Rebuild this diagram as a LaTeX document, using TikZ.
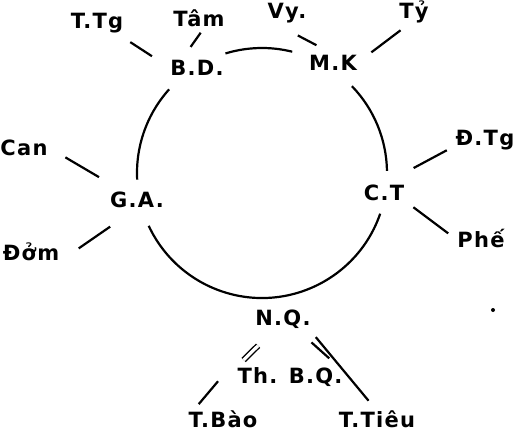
\documentclass[tikz,border=0pt]{standalone}
\usepackage{fontspec}
\setmainfont{DejaVu Sans}[LetterSpace=6]
\usetikzlibrary{calc}

\begin{document}
\begin{tikzpicture}[x=1pt,y=-1pt,line width=2.2pt,
		lbl/.style={inner sep=0pt,text height=15pt,text depth=0pt,anchor=base,font=\bfseries\fontsize{21}{25}\selectfont},
		twin/.style={double,double distance=3.2pt,line width=1.4pt}]
				\useasboundingbox (0,0) rectangle (514,431);
				\coordinate (hub) at (262,173);
				\foreach \n/\x/\y/\t in {ttg/97/28/{T.Tg},tam/199/27/{Tâm},vy/287/18/{Vy.},ty/414/19/{Tỷ},
					bd/197/75/{B.D.},mk/333/70/{M.K},can/24/155/{Can},ga/137/207/{G.A.},dom/31/260/{Đởm},
					ct/384/200/{C.T},dtg/485/145/{Đ.Tg},phe/481/247/{Phế},nq/283/325/{N.Q.},
					thbq/290/383/{Th. B.Q.},tbao/223/427/{T.Bào},ttieu/377/427/{T.Tiêu}}
					\node[lbl] (\n) at (\x,\y) {\t};
				\foreach \a/\b in {-107/-76,-44/-1,19/155,177/222}
					\draw (hub) ++(\a:125) arc[start angle=\a,end angle=\b,radius=125];
				\foreach \a/\b/\s/\e in {ttg/bd.west/.46/.76,tam.-60/bd.150/.15/.61,
					vy.south west/mk.north/.47/.75,ty.south/mk.east/.24/.76,
					can.east/ga/.19/.57,dom.south east/ga.south/.24/.65,
					dtg.south west/ct.north/.11/.58,ct.south east/phe.west/.16/.84,
					nq.-20/ttieu.north/.13/.88,nq.-40/thbq.10/.40/.79,nq.-155/tbao.164/.65/.92}
					\draw ($(\a)!\s!(\b)$) -- ($(\a)!\e!(\b)$);
				\draw[twin] ($(nq.-120)!.48!(thbq.north west)$) -- ($(nq.-120)!.83!(thbq.north west)$);
				\fill (493,310) circle[radius=2];
			\end{tikzpicture}
\end{document}
